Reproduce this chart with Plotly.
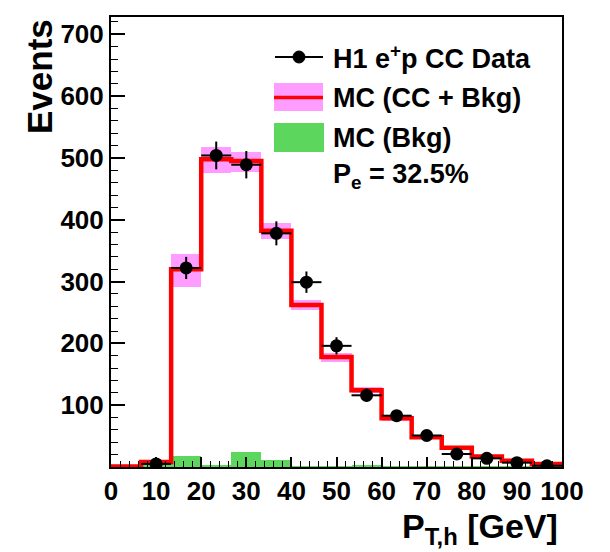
import numpy as np
import plotly.graph_objects as go

# Binning: 15 bins of P_T,h between 0 and 100 GeV
bin_lo = 0.0
bin_hi = 100.0
n_bins = 15
edges = np.linspace(bin_lo, bin_hi, n_bins + 1)
centers = 0.5 * (edges[:-1] + edges[1:])
half_w = 0.5 * (edges[1] - edges[0])

# H1 e+p CC data (events per bin); first bin empty
data_events = [None, 5, 322, 504, 489, 378, 299, 196, 116, 83, 51, 21, 14, 7, 2]

# MC prediction (CC + background) and its uncertainty band limits
mc_total = [1, 8, 320, 498, 495, 382, 262, 178, 124, 79, 48, 31, 17, 10, 5]
mc_band_lo = [0.5, 6, 292, 476, 478, 369, 254, 170, 119, 75, 46, 29, 15, 9, 4]
mc_band_hi = [1.5, 10, 344, 518, 510, 394, 270, 185, 129, 83, 51, 34, 19, 12, 6]

# MC background only
mc_bkg = [1, 2, 17, 4, 24, 11, 1, 1, 3, 1, 1, 1, 1, 1, 1]

PINK = "#ff9cff"
RED = "#ff0000"
GREEN = "#5cd65c"
FONT = "Liberation Sans"

fig = go.Figure()

# uncertainty band of the total MC
fig.add_trace(go.Bar(
    x=centers, y=np.array(mc_band_hi) - np.array(mc_band_lo), base=mc_band_lo,
    width=2 * half_w, marker=dict(color=PINK, line=dict(width=0)),
    showlegend=False, hoverinfo="skip",
))

# background histogram
fig.add_trace(go.Bar(
    x=centers, y=mc_bkg, width=2 * half_w,
    marker=dict(color=GREEN, line=dict(width=0)),
    showlegend=False,
))

# total MC as a step histogram
step_x = list(edges)
step_y = list(mc_total) + [mc_total[-1]]
fig.add_trace(go.Scatter(
    x=step_x, y=step_y, mode="lines", line=dict(color=RED, width=4.5, shape="hv"),
    showlegend=False,
))

# data points with statistical errors
data_x = [c for c, d in zip(centers, data_events) if d is not None]
data_y = [d for d in data_events if d is not None]
fig.add_trace(go.Scatter(
    x=data_x, y=data_y, mode="markers",
    marker=dict(color="black", size=13),
    error_y=dict(type="data", array=np.sqrt(data_y), color="black", thickness=2, width=0),
    error_x=dict(type="constant", value=half_w, color="black", thickness=2, width=0),
    showlegend=False,
))

# hand-built legend
L, T = 111, 17
W, H = 451, 450


def px(xp):
    return (xp - L) / W


def py(yp):
    return (T + H - yp) / H


shapes = [
    # data entry: line with marker
    dict(type="line", xref="paper", yref="paper", x0=px(275), x1=px(323), y0=py(57), y1=py(57),
         line=dict(color="black", width=2)),
    dict(type="circle", xref="paper", yref="paper", x0=px(293), x1=px(305), y0=py(51), y1=py(63),
         fillcolor="black", line=dict(color="black", width=1)),
    # MC total entry: pink box with red line
    dict(type="rect", xref="paper", yref="paper", x0=px(274), x1=px(323), y0=py(83), y1=py(111),
         fillcolor=PINK, line=dict(width=0)),
    dict(type="line", xref="paper", yref="paper", x0=px(274), x1=px(323), y0=py(97.5), y1=py(97.5),
         line=dict(color=RED, width=3.5)),
    # background entry: green box
    dict(type="rect", xref="paper", yref="paper", x0=px(274), x1=px(324), y0=py(123), y1=py(152),
         fillcolor=GREEN, line=dict(width=0)),
]

legend_rows = [
    ("H1 e<sup>+</sup>p CC Data", 57),
    ("MC (CC + Bkg)", 98),
    ("MC (Bkg)", 138),
    ("P<sub>e</sub> = 32.5%", 176),
]
annotations = []
for txt, yc in legend_rows:
    annotations.append(dict(
        text=txt, xref="paper", yref="paper", x=px(331), y=py(yc),
        xanchor="left", yanchor="middle", showarrow=False,
        font=dict(family=FONT, size=27, color="black", weight="bold"),
    ))

# axis titles
annotations.append(dict(
    text="Events", xref="paper", yref="paper", x=px(40), y=py(77),
    xanchor="center", yanchor="middle", textangle=-90, showarrow=False,
    font=dict(family=FONT, size=35, color="black", weight="bold"),
))
annotations.append(dict(
    text="P<sub>T,h</sub> [GeV]", xref="paper", yref="paper", x=px(560), y=py(528),
    xanchor="right", yanchor="middle", showarrow=False,
    font=dict(family=FONT, size=34, color="black", weight="bold"),
))

fig.update_layout(
    width=610, height=552,
    margin=dict(l=L, r=610 - L - W, t=T, b=552 - T - H),
    paper_bgcolor="white", plot_bgcolor="white",
    barmode="overlay", bargap=0,
    showlegend=False,
    shapes=shapes, annotations=annotations,
    font=dict(family=FONT, color="black"),
)

fig.update_xaxes(
    range=[bin_lo, bin_hi], showgrid=False, zeroline=False,
    showline=True, linecolor="black", linewidth=2, mirror=True,
    ticks="inside", ticklen=10, tickwidth=1.5, tickcolor="black", dtick=10, tick0=0,
    minor=dict(ticks="inside", ticklen=6, dtick=2, tickcolor="black", tickwidth=1.2),
    tickfont=dict(family=FONT, size=26, color="black", weight="bold"),
)
fig.update_yaxes(
    range=[0, 728], showgrid=False, zeroline=False,
    showline=True, linecolor="black", linewidth=2, mirror=True,
    ticks="inside", ticklen=14, tickwidth=1.5, tickcolor="black", dtick=100, tick0=0,
    tickvals=[100, 200, 300, 400, 500, 600, 700],
    minor=dict(ticks="inside", ticklen=7, dtick=20, tickcolor="black", tickwidth=1.2),
    tickfont=dict(family=FONT, size=26, color="black", weight="bold"),
    ticklabelstandoff=0,
)

fig.write_html("out.html")
